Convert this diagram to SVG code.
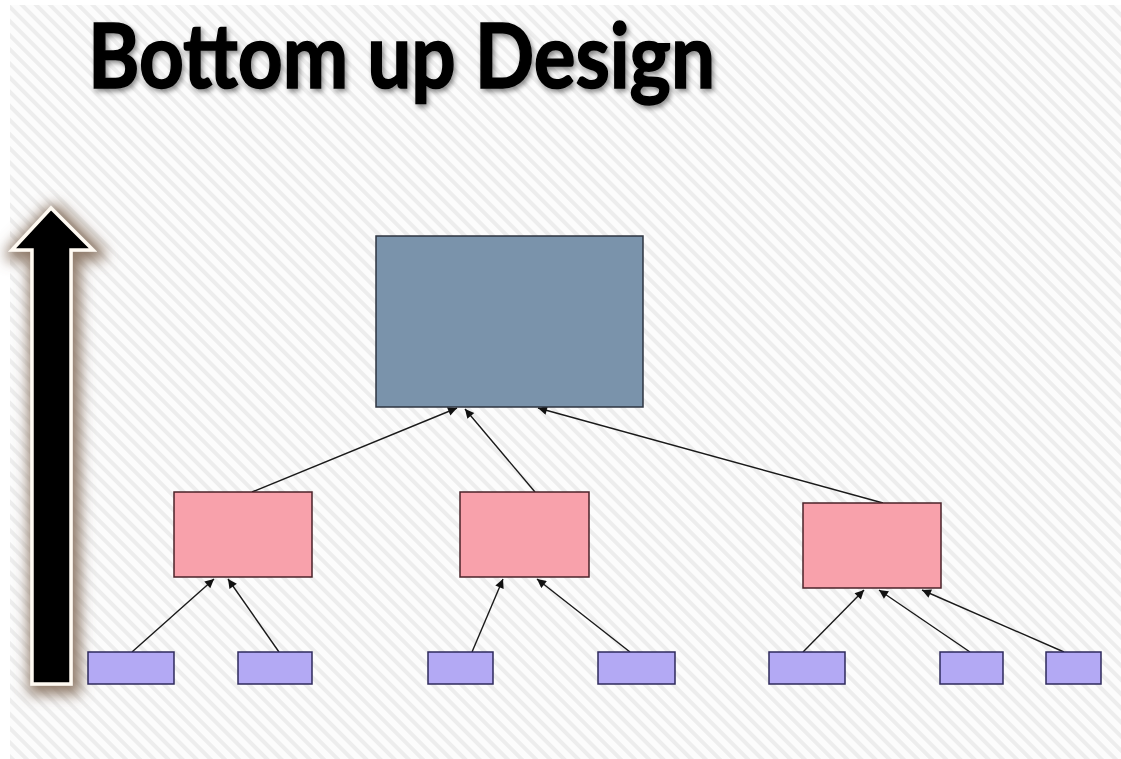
<svg xmlns="http://www.w3.org/2000/svg" width="1121" height="759" viewBox="0 0 1121 759">
  <defs>
    <pattern id="stripes" width="10" height="10" patternUnits="userSpaceOnUse" patternTransform="rotate(-45)">
      <rect width="10" height="10" fill="#fcfcfc"/>
      <rect width="4" height="10" fill="#ededed"/>
    </pattern>
    <filter id="titleShadow" x="-5%" y="-20%" width="110%" height="150%">
      <feGaussianBlur in="SourceAlpha" stdDeviation="2.5"/>
      <feOffset dx="2" dy="3" result="b"/>
      <feFlood flood-color="#000" flood-opacity="0.45"/>
      <feComposite in2="b" operator="in" result="s"/>
      <feGaussianBlur in="SourceGraphic" stdDeviation="0.6" result="t"/>
      <feMerge><feMergeNode in="s"/><feMergeNode in="t"/></feMerge>
    </filter>
    <filter id="arrowGlow" x="-80%" y="-10%" width="260%" height="125%">
      <feMorphology in="SourceAlpha" operator="dilate" radius="5"/>
      <feGaussianBlur stdDeviation="7"/>
      <feOffset dx="3" dy="4" result="b"/>
      <feFlood flood-color="#8a7462" flood-opacity="0.95"/>
      <feComposite in2="b" operator="in" result="s"/>
      <feMerge><feMergeNode in="s"/><feMergeNode in="SourceGraphic"/></feMerge>
    </filter>
    <marker id="head" viewBox="0 0 10 10" refX="10" refY="5" markerWidth="11" markerHeight="9" markerUnits="userSpaceOnUse" orient="auto">
      <path d="M0,0 L10,5 L0,10 Z" fill="#111"/>
    </marker>
    <style>
      .top { fill: #7a93ab; stroke: #2e3540; stroke-width: 1.5; }
      .mid { fill: #f8a1ab; stroke: #4a2229; stroke-width: 1.5; }
      .leaf { fill: #b3a9f4; stroke: #2e2a5c; stroke-width: 1.5; }
      .link { stroke: #1a1a1a; stroke-width: 1.4; fill: none; marker-end: url(#head); }
      .title { font-family: Lato, "Open Sans", sans-serif; font-weight: 700; font-size: 90px; fill: #000; stroke: #000; stroke-width: 1.6; }
    </style>
  </defs>

  <!-- backdrop -->
  <rect width="1121" height="759" fill="#ffffff"/>
  <rect x="10" y="5" width="1111" height="754" fill="url(#stripes)"/>

  <!-- heading -->
  <text class="title" x="88" y="88" textLength="627" lengthAdjust="spacingAndGlyphs" filter="url(#titleShadow)">Bottom up Design</text>

  <!-- upward direction arrow -->
  <g id="direction-arrow" filter="url(#arrowGlow)">
    <path d="M51,208 L93,250 L71,250 L71,684 L32,684 L32,250 L12,250 Z" fill="#000" stroke="#fffaf2" stroke-width="3.5" stroke-linejoin="miter"/>
  </g>

  <!-- connectors -->
  <g id="connectors">
    <line class="link" x1="252" y1="492" x2="457" y2="408"/>
    <line class="link" x1="535" y1="492" x2="465" y2="409"/>
    <line class="link" x1="883" y1="503" x2="538" y2="408"/>
    <line class="link" x1="132" y1="652" x2="214" y2="579"/>
    <line class="link" x1="279" y1="652" x2="228" y2="579"/>
    <line class="link" x1="472" y1="652" x2="503" y2="579"/>
    <line class="link" x1="630" y1="652" x2="537" y2="579"/>
    <line class="link" x1="803" y1="652" x2="864" y2="590"/>
    <line class="link" x1="970" y1="652" x2="879" y2="590"/>
    <line class="link" x1="1064" y1="652" x2="922" y2="590"/>
  </g>

  <!-- root module -->
  <g id="root"><rect class="top" x="376" y="236" width="267" height="171"/></g>

  <!-- intermediate modules -->
  <g id="mid-1"><rect class="mid" x="174" y="492" width="138" height="85"/></g>
  <g id="mid-2"><rect class="mid" x="460" y="492" width="129" height="85"/></g>
  <g id="mid-3"><rect class="mid" x="803" y="503" width="138" height="85"/></g>

  <!-- leaf modules -->
  <g id="leaf-1"><rect class="leaf" x="88" y="652" width="86" height="32"/></g>
  <g id="leaf-2"><rect class="leaf" x="238" y="652" width="74" height="32"/></g>
  <g id="leaf-3"><rect class="leaf" x="428" y="652" width="65" height="32"/></g>
  <g id="leaf-4"><rect class="leaf" x="598" y="652" width="77" height="32"/></g>
  <g id="leaf-5"><rect class="leaf" x="769" y="652" width="76" height="32"/></g>
  <g id="leaf-6"><rect class="leaf" x="940" y="652" width="63" height="32"/></g>
  <g id="leaf-7"><rect class="leaf" x="1046" y="652" width="55" height="32"/></g>
</svg>
